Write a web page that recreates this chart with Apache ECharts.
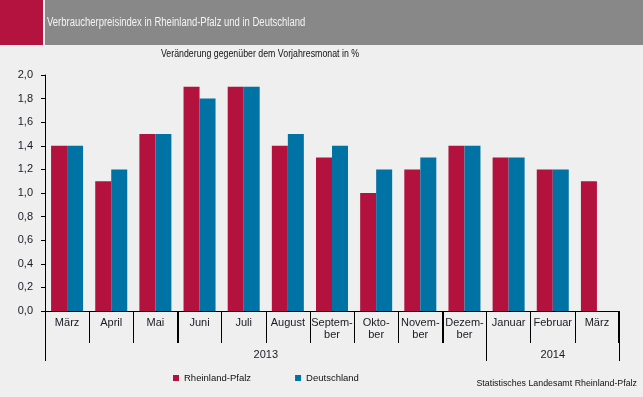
<!DOCTYPE html>
<html><head><meta charset="utf-8">
<script src="https://cdn.jsdelivr.net/npm/echarts@6/dist/echarts.min.js"></script>
<style>html,body{margin:0;padding:0;background:#eeefee;}#c{width:643px;height:397px;}</style>
</head><body><div id="c"></div>
<script>
const categories = ['März','April','Mai','Juni','Juli','August','Septem-\nber','Okto-\nber','Novem-\nber','Dezem-\nber','Januar','Februar','März'];
const rlp = [1.4,1.1,1.5,1.9,1.9,1.4,1.3,1.0,1.2,1.4,1.3,1.2,1.1];
const de  = [1.4,1.2,1.5,1.8,1.9,1.5,1.4,1.2,1.3,1.4,1.3,1.2,null];
const years = ['2013','2014'];
const yearSpans = [10,3];
const seriesNames = ['Rheinland-Pfalz','Deutschland'];
const title = 'Verbraucherpreisindex in Rheinland-Pfalz und in Deutschland';
const subtitle = 'Veränderung gegenüber dem Vorjahresmonat in %';
const source = 'Statistisches Landesamt Rheinland-Pfalz';

const RED = '#b3123f', BLUE = '#0072a3';
const FONT = 'Liberation Sans, Arial, sans-serif';

const yearStarts = []; const yearCenters = {};
let acc = 0;
years.forEach((y,i)=>{ yearStarts.push(acc); yearCenters[acc + yearSpans[i]/2] = y; acc += yearSpans[i]; });

const grid = {left:45, right:24, top:75, bottom:86};
const chart = echarts.init(document.getElementById('c'));
chart.setOption({
  backgroundColor:'#eeefee',
  animation:false,
  textStyle:{fontFamily:FONT},
  graphic:[
    {type:'rect', shape:{x:0,y:0,width:43,height:45}, style:{fill:'#b5133f'}},
    {type:'rect', shape:{x:45,y:0,width:598,height:45}, style:{fill:'#888888'}},
    {type:'text', x:47, y:23, scaleX:0.79, style:{text:title, fill:'#f4f4f4', font:'12px '+FONT, textVerticalAlign:'middle'}},
    {type:'text', x:260, y:54, scaleX:0.8, style:{text:subtitle, fill:'#111', font:'11px '+FONT, textAlign:'center', textVerticalAlign:'middle'}},
    {type:'text', x:637, y:383, scaleX:0.93, style:{text:source, fill:'#111', font:'9.5px '+FONT, textAlign:'right', textVerticalAlign:'middle'}}
  ],
  legend:{
    data:seriesNames, left:168, top:368, itemWidth:6, itemHeight:6, itemGap:44,
    icon:'rect', textStyle:{fontSize:9.5, color:'#111', fontFamily:FONT}
  },
  grid:grid,
  xAxis:[
    {type:'category', data:categories, boundaryGap:true,
     axisLine:{show:true, lineStyle:{color:'#000', width:1}},
     axisTick:{show:true, interval:0, alignWithLabel:false, length:32, lineStyle:{color:'#000', width:1}},
     axisLabel:{interval:0, margin:6, fontSize:11, lineHeight:12, color:'#1a1a22', fontFamily:FONT}},
    {type:'category', data:categories, boundaryGap:true, position:'bottom',
     axisLine:{show:false},
     axisTick:{show:true, alignWithLabel:false, length:50, interval:(i)=>yearStarts.indexOf(i)>=0, lineStyle:{color:'#000', width:1}},
     axisLabel:{show:false}},
    {type:'category', data:categories, boundaryGap:true, position:'bottom',
     axisLine:{show:false},
     axisTick:{show:true, alignWithLabel:false, length:32, interval:(i)=>i===3||i===9, lineStyle:{color:'#000', width:2}},
     axisLabel:{show:false}},
    {type:'value', min:0, max:categories.length, interval:0.5, position:'bottom',
     axisLine:{show:false}, axisTick:{show:false}, splitLine:{show:false},
     axisLabel:{margin:38, fontSize:11, color:'#1a1a22', fontFamily:FONT,
       formatter:(v)=> yearCenters[v] || ''}}
  ],
  yAxis:{type:'value', min:0, max:2, interval:0.2,
    axisLine:{show:true, lineStyle:{color:'#000'}},
    axisTick:{show:true, length:4, lineStyle:{color:'#000'}},
    splitLine:{show:false},
    axisLabel:{margin:12, fontSize:11, color:'#1a1a22', fontFamily:FONT, formatter:(v)=>v.toFixed(1).replace('.',',')}},
  series:[
    {name:seriesNames[0], type:'bar', data:rlp, barWidth:16, barGap:'0%', itemStyle:{color:RED}},
    {name:seriesNames[1], type:'bar', data:de, barWidth:16, barGap:'0%', itemStyle:{color:BLUE}}
  ]
});
</script></body></html>
